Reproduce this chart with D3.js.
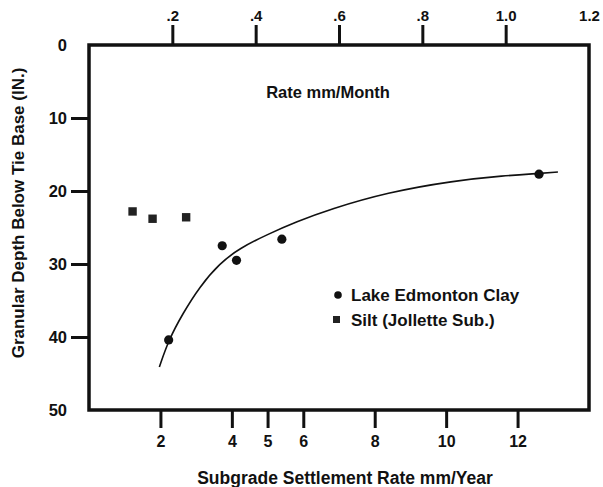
<!DOCTYPE html>
<html>
<head>
<meta charset="utf-8">
<script src="https://cdn.jsdelivr.net/npm/d3@7/dist/d3.min.js"></script>
<style>
  html, body { margin: 0; padding: 0; background: #fff; }
  svg { display: block; }
  text { font-family: "Liberation Sans", Arial, Helvetica, sans-serif; font-weight: bold; fill: #111; }
</style>
</head>
<body>
<svg id="chart" width="603" height="487"></svg>
<script>
// Lake Edmonton Clay observations: settlement rate (mm/year) vs granular depth (in.)
const clayRate  = [2.23, 3.73, 4.13, 5.40, 12.6];
const clayDepth = [40.4, 27.5, 29.5, 26.6, 17.7];

// Silt (Jollette Sub.) observations
const siltRate  = [1.22, 1.78, 2.72];
const siltDepth = [22.8, 23.8, 23.6];

// Hand-fitted trend curve through the clay data
const curveRate  = [1.97, 2.23, 2.63, 3.10, 3.66, 4.22, 4.97, 5.81, 6.75, 8.34, 10.21, 11.62, 12.60, 13.13];
const curveDepth = [44.1, 40.4, 36.75, 33.1, 29.9, 27.85, 26.0, 24.2, 22.5, 20.2, 18.6, 17.9, 17.6, 17.4];

// Axis ticks
const bottomTicks = [2, 4, 5, 6, 8, 10, 12];
const topTicks    = [0.2, 0.4, 0.6, 0.8, 1.0, 1.2];
const leftTicks   = [0, 10, 20, 30, 40, 50];

const legendLabels = ["Lake Edmonton Clay", "Silt (Jollette Sub.)"];

const svg = d3.select("#chart");
const L = 89, R = 589, T = 45, B = 410;

const x = d3.scaleLinear().domain([0, 14]).range([L, R]);      // mm/year
const xTop = d3.scaleLinear().domain([0, 1.2]).range([L, R]);  // mm/month
const y = d3.scaleLinear().domain([0, 50]).range([T, B]);      // depth, downward

const fmtTop = d => d >= 1 ? d3.format(".1f")(d) : d3.format(".1f")(d).replace(/^0/, "");

function styleTicks(g, size) {
  g.select(".domain").remove();
  g.selectAll(".tick line").attr("stroke", "#111").attr("stroke-width", 3);
  g.selectAll(".tick text")
    .style("font-size", size + "px")
    .style("font-family", "\"Liberation Sans\", Arial, sans-serif")
    .style("font-weight", "bold")
    .attr("fill", "#111");
}

// Left axis
const gL = svg.append("g").attr("transform", `translate(${L},0)`)
  .call(d3.axisLeft(y).tickValues(leftTicks).tickSize(18).tickPadding(4));
styleTicks(gL, 16.5);
gL.selectAll(".tick").filter(d => d === 0 || d === 50).select("line").remove();

// Top axis
const gT = svg.append("g").attr("transform", `translate(0,${T})`)
  .call(d3.axisTop(xTop).tickValues(topTicks).tickFormat(fmtTop).tickSize(20).tickPadding(4));
styleTicks(gT, 15);
gT.selectAll(".tick").filter(d => d === 1.2).select("line").remove();

// Bottom axis
const gB = svg.append("g").attr("transform", `translate(0,${B})`)
  .call(d3.axisBottom(x).tickValues(bottomTicks).tickFormat(d3.format("d")).tickSize(18).tickPadding(8));
styleTicks(gB, 16);

// Frame
svg.append("rect")
  .attr("x", L).attr("y", T).attr("width", R - L).attr("height", B - T)
  .attr("fill", "none").attr("stroke", "#111").attr("stroke-width", 3.5);

// Trend curve
const curvePts = curveRate.map((r, i) => [r, curveDepth[i]]);
svg.append("path")
  .datum(curvePts)
  .attr("fill", "none").attr("stroke", "#111").attr("stroke-width", 1.6)
  .attr("d", d3.line().x(d => x(d[0])).y(d => y(d[1])).curve(d3.curveBasis));

// Clay points
svg.append("g").selectAll("circle")
  .data(clayRate.map((r, i) => [r, clayDepth[i]]))
  .join("circle")
  .attr("cx", d => x(d[0])).attr("cy", d => y(d[1])).attr("r", 4.6).attr("fill", "#111");

// Silt points
svg.append("g").selectAll("rect")
  .data(siltRate.map((r, i) => [r, siltDepth[i]]))
  .join("rect")
  .attr("x", d => x(d[0]) - 4.2).attr("y", d => y(d[1]) - 4.2)
  .attr("width", 8.4).attr("height", 8.4).attr("fill", "#222");

// Legend
const lg = svg.append("g");
lg.append("circle").attr("cx", 338).attr("cy", 295).attr("r", 3.8).attr("fill", "#111");
lg.append("rect").attr("x", 333).attr("y", 316).attr("width", 7).attr("height", 7).attr("fill", "#222");
lg.selectAll("text").data(legendLabels).join("text")
  .attr("x", 351).attr("y", (d, i) => 301 + i * 25)
  .style("font-size", "17px").text(d => d);

// Inner caption and axis titles
svg.append("text").attr("x", 328).attr("y", 98).attr("text-anchor", "middle")
  .style("font-size", "16.5px").text("Rate mm/Month");

svg.append("text").attr("x", 345).attr("y", 484).attr("text-anchor", "middle")
  .style("font-size", "17.5px").text("Subgrade Settlement Rate mm/Year");

svg.append("text").attr("transform", "translate(24,213) rotate(-90)").attr("text-anchor", "middle")
  .style("font-size", "17px").text("Granular Depth Below Tie Base (IN.)");
</script>
</body>
</html>
